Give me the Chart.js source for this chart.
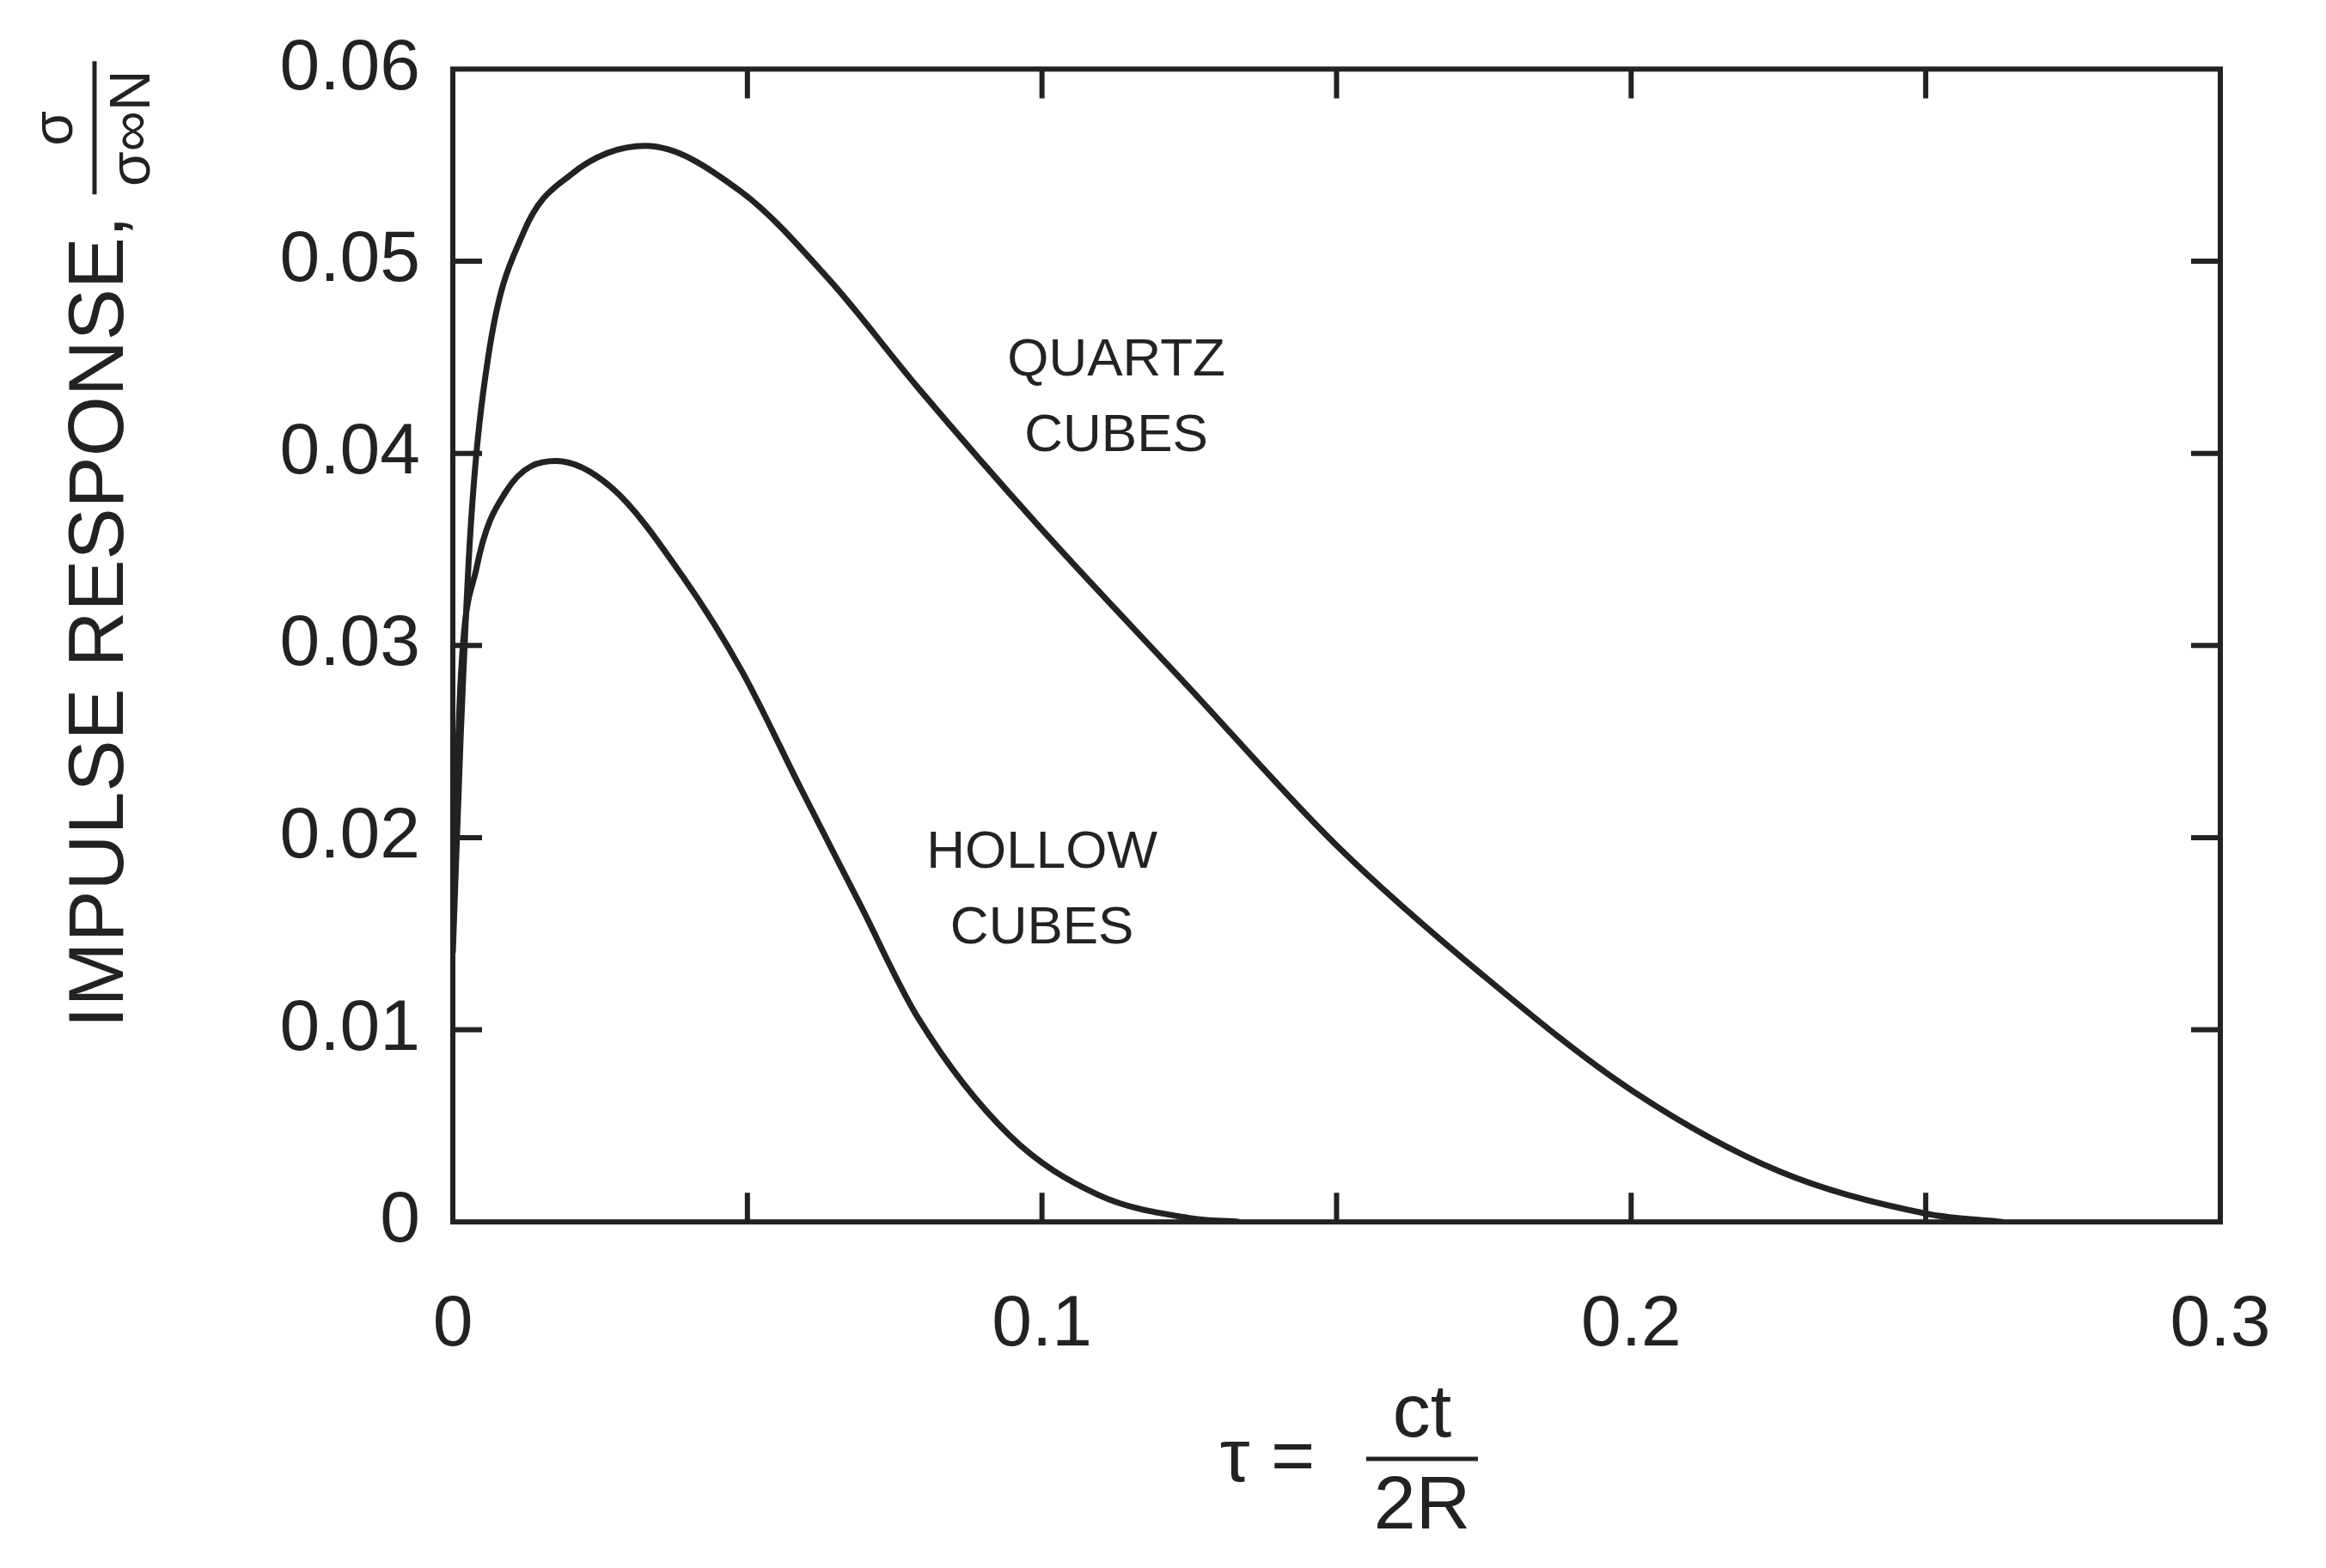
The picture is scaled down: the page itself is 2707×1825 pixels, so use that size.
<!DOCTYPE html>
<html><head><meta charset="utf-8">
<script src="https://cdn.jsdelivr.net/npm/chart.js@4"></script>
<style>html,body{margin:0;background:#fff}#w{width:2707px;height:1825px}</style>
</head><body><div id="w"><canvas id="c"></canvas></div>
<script>
const quartzX=[0,0.0013,0.003,0.006,0.012,0.02,0.0327,0.049,0.064,0.079,0.0995,0.1247,0.15,0.175,0.2003,0.2254,0.2506,0.263];
const quartzY=[0.014,0.025,0.036,0.045,0.0515,0.0545,0.056,0.0536,0.049,0.0434,0.0362,0.0279,0.0196,0.0128,0.0068,0.0026,0.0004,0];
const hollowX=[0,0.0013,0.004,0.009,0.0175,0.027,0.039,0.049,0.059,0.069,0.079,0.0945,0.1096,0.125,0.1335];
const hollowY=[0.016,0.028,0.034,0.038,0.0396,0.0382,0.0336,0.0287,0.0226,0.0166,0.0106,0.0045,0.0014,0.0002,0];
const xTicks=[0,0.1,0.2,0.3];
const yTicks=[0,0.01,0.02,0.03,0.04,0.05,0.06];
const labels=[{t:["QUARTZ","CUBES"],x:0.1126,y:0.0448},{t:["HOLLOW","CUBES"],x:0.1,y:0.0192}];
const F='"Liberation Sans", Arial, sans-serif';
const pts=(xs,ys)=>xs.map((x,i)=>({x,y:ys[i]}));
const deco={id:'deco',afterDraw(ch){
 const c=ch.ctx,a=ch.chartArea,xs=ch.scales.x,ys=ch.scales.y;
 c.save();c.strokeStyle='#222';c.lineWidth=6;
 c.strokeRect(a.left,a.top,a.right-a.left,a.bottom-a.top);
 const L=34;
 for(let v=0.05;v<0.3;v+=0.05){const p=xs.getPixelForValue(v);
  c.beginPath();c.moveTo(p,a.bottom);c.lineTo(p,a.bottom-L);c.moveTo(p,a.top);c.lineTo(p,a.top+L);c.stroke();}
 yTicks.slice(1,-1).forEach(v=>{const p=ys.getPixelForValue(v);
  c.beginPath();c.moveTo(a.left,p);c.lineTo(a.left+L,p);c.moveTo(a.right,p);c.lineTo(a.right-L,p);c.stroke();});
 c.fillStyle='#222';c.textAlign='center';c.textBaseline='middle';
 c.font='62px '+F;
 labels.forEach(l=>{const px=xs.getPixelForValue(l.x),py=ys.getPixelForValue(l.y);
  l.t.forEach((s,i)=>c.fillText(s,px,py+i*88));});
 c.font='88px '+F;c.fillText('τ =',1475,1700);
 c.beginPath();c.lineWidth=5;c.moveTo(1590,1698);c.lineTo(1720,1698);c.stroke();
 c.fillText('ct',1655,1648);c.fillText('2R',1655,1755);
 c.translate(118,(a.top+a.bottom)/2+20);c.rotate(-Math.PI/2);
 c.font='90px '+F;c.textAlign='right';c.fillText('IMPULSE RESPONSE,',520,0);
 c.textAlign='center';c.beginPath();c.moveTo(545,-8);c.lineTo(700,-8);c.stroke();
 c.font='66px '+F;c.fillText('σ',622,-52);c.fillText('σ∞N',622,38);
 c.restore();}};
new Chart(document.getElementById('c'),{type:'scatter',
 data:{datasets:[
  {data:pts(quartzX,quartzY),showLine:true,borderColor:'#222',borderWidth:7,pointRadius:0,cubicInterpolationMode:'monotone'},
  {data:pts(hollowX,hollowY),showLine:true,borderColor:'#222',borderWidth:7,pointRadius:0,cubicInterpolationMode:'monotone'}]},
 options:{responsive:true,maintainAspectRatio:false,animation:false,
  layout:{padding:{left:230,right:123,top:78,bottom:170}},
  plugins:{legend:{display:false},tooltip:{enabled:false}},
  scales:{
   x:{type:'linear',min:0,max:0.3,grid:{display:false},border:{display:false},
    afterBuildTicks:s=>{s.ticks=xTicks.map(v=>({value:v}));},
    ticks:{color:'#222',font:{size:84,family:F},padding:62,callback:v=>v===0?'0':String(v)}},
   y:{type:'linear',min:0,max:0.06,grid:{display:false},border:{display:false},
    afterBuildTicks:s=>{s.ticks=yTicks.map(v=>({value:v}));},
    afterFit:s=>{s.width=297;},
    ticks:{color:'#222',font:{size:84,family:F},padding:30,callback:v=>v===0?'0':v.toFixed(2)}}}},
 plugins:[deco]});
</script></body></html>
